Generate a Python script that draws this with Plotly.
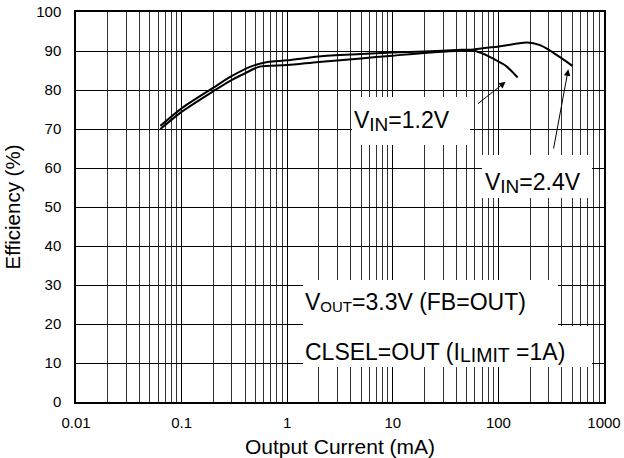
import math
import plotly.graph_objects as go

# Efficiency vs. output current, VOUT = 3.3 V
current_vin24 = [0.063, 0.1, 0.2, 0.3, 0.45, 0.65, 1.0, 2.0, 5.0, 10.0, 20.0, 45.0,
                 58.0, 90.0, 120.0, 150.0, 187.0, 248.0, 308.0, 398.0, 501.0]
eff_vin24 = [70.8, 75.3, 80.6, 83.6, 86.0, 87.2, 87.6, 88.6, 89.2, 89.6, 89.9, 90.3,
             90.4, 91.0, 91.5, 91.9, 92.2, 91.5, 90.1, 88.1, 86.2]

current_vin12 = [0.063, 0.1, 0.2, 0.3, 0.4, 0.55, 1.0, 2.0, 5.0, 10.0, 20.0, 40.0,
                 58.0, 83.0, 100.0, 120.0, 152.0]
eff_vin12 = [70.0, 74.4, 79.7, 82.6, 84.3, 86.0, 86.4, 87.2, 88.1, 88.8, 89.5, 90.0,
             90.1, 88.5, 87.3, 86.0, 83.2]

x_tick_vals = [0.01, 0.1, 1, 10, 100, 1000]
x_tick_text = ["0.01", "0.1", "1", "10", "100", "1000"]
x_minor_vals = [m * 10.0 ** e for e in range(-2, 3) for m in range(2, 10)]
y_tick_vals = list(range(0, 101, 10))

FONT = "Liberation Sans, Arial, Helvetica, sans-serif"

W, H = 624, 458
ML, MR, MT, MB = 76, 20, 12, 56
PW, PH = W - ML - MR, H - MT - MB


def fx(p):
    return (p - ML) / PW


def fy(p):
    return (H - MB - p) / PH


fig = go.Figure()
for xs, ys, name in [(current_vin24, eff_vin24, "VIN=2.4V"),
                     (current_vin12, eff_vin12, "VIN=1.2V")]:
    fig.add_trace(go.Scatter(x=xs, y=ys, mode="lines", name=name,
                             line=dict(color="black", width=2, shape="spline",
                                       smoothing=0.8),
                             showlegend=False, hoverinfo="skip"))

# white label boxes that blank out the grid behind the text
boxes = [(352, 97, 470, 145), (482, 155, 592, 198),
         (303, 280, 558, 326), (303, 326, 592, 367)]
shapes = [dict(type="rect", xref="paper", yref="paper",
               x0=fx(a), x1=fx(c), y0=fy(d), y1=fy(b),
               fillcolor="white", line=dict(width=0), layer="above")
          for a, b, c, d in boxes]


def sub(t, size, shift):
    return (f'<span style="font-size:{size}px;baseline-shift:-{shift}px">'
            f'{t}</span>')


labels = [
    ("V" + sub("IN", 19, 2.5) + "=1.2V", 352, 121),
    ("V" + sub("IN", 19, 2.5) + "=2.4V", 483, 183),
    ("V" + sub("OUT", 15, 1.7) + "=3.3V (FB=OUT)", 303, 302),
    ("CLSEL=OUT (I" + sub("LIMIT", 19.5, 2.3) + " =1A)", 303, 352),
]
annotations = [dict(text=t, xref="paper", yref="paper", x=fx(xp), y=fy(yp),
                    xanchor="left", yanchor="middle", showarrow=False,
                    font=dict(family=FONT, size=23, color="black"))
               for t, xp, yp in labels]

# arrows pointing from the labels to the curve ends
for (hx, hy), (tx, ty) in [((117, 82.1), (62, 76.2)),
                           ((459, 85.3), (331, 64.6))]:
    annotations.append(dict(text="", x=math.log10(hx), y=hy, xref="x", yref="y",
                            ax=math.log10(tx), ay=ty, axref="x", ayref="y",
                            showarrow=True, arrowhead=2, arrowsize=1.3,
                            arrowwidth=1, arrowcolor="black", standoff=0))

fig.update_layout(
    width=W, height=H,
    margin=dict(l=ML, r=MR, t=MT, b=MB, autoexpand=False),
    paper_bgcolor="white", plot_bgcolor="white",
    font=dict(family=FONT, color="black"),
    shapes=shapes, annotations=annotations,
)
fig.update_xaxes(
    type="log", range=[-2, 3], automargin=False,
    tickmode="array", tickvals=x_tick_vals, ticktext=x_tick_text,
    tickfont=dict(size=15), ticks="outside", ticklen=6, tickcolor="rgba(0,0,0,0)",
    showgrid=True, gridcolor="black", gridwidth=1,
    minor=dict(tickmode="array", tickvals=x_minor_vals, showgrid=True,
               gridcolor="#333333", gridwidth=1, ticks=""),
    showline=True, linecolor="black", linewidth=1.5, mirror=True,
    title=dict(text="Output Current (mA)", font=dict(size=21), standoff=11),
)
fig.update_yaxes(
    range=[0, 100], tickmode="array", tickvals=y_tick_vals, automargin=False,
    tickfont=dict(size=15), ticks="outside", ticklen=10, tickcolor="rgba(0,0,0,0)",
    showgrid=True, gridcolor="black", gridwidth=1, zeroline=False,
    showline=True, linecolor="black", linewidth=1.5, mirror=True,
    title=dict(text="Efficiency (%)", font=dict(size=20.5), standoff=10),
)

fig.write_html("out.html")
